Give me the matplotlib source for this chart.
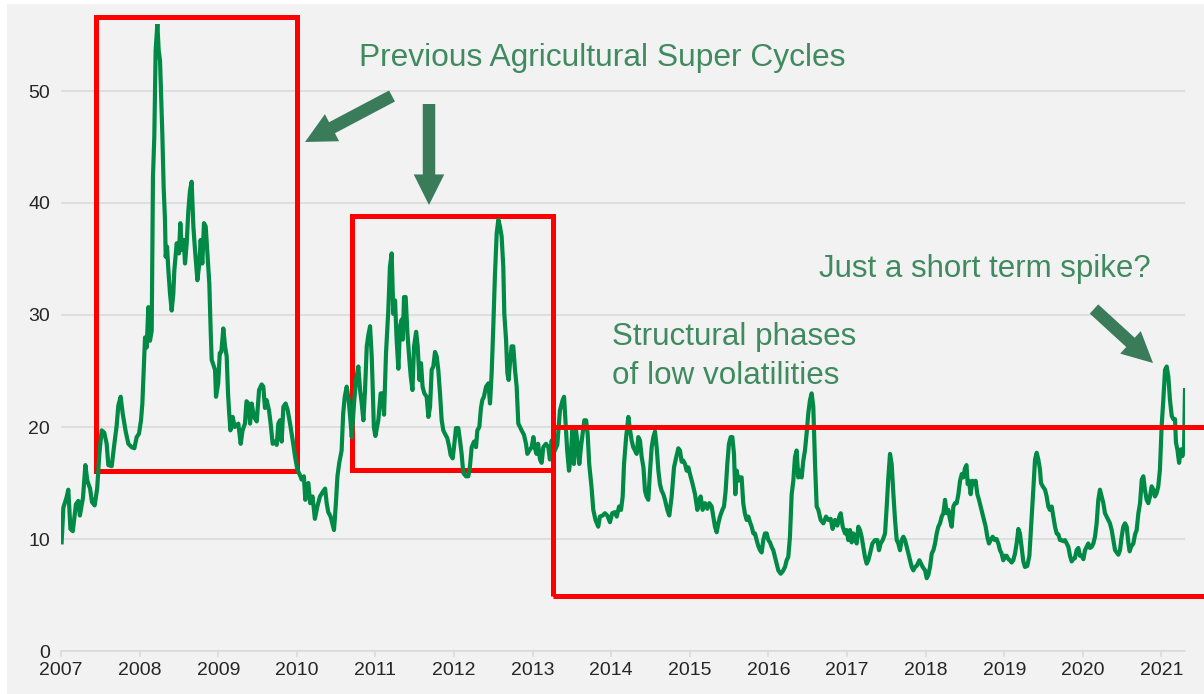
import numpy as np
import matplotlib
matplotlib.use("Agg")
import matplotlib.pyplot as plt
from matplotlib.patches import Rectangle, FancyArrowPatch, ArrowStyle

plt.rcParams['font.family'] = ['Liberation Sans', 'DejaVu Sans']

# ---------------- data (decimal year, volatility) ----------------
t_2007 = [2007.008, 2007.03, 2007.07, 2007.093, 2007.12, 2007.15, 2007.19, 2007.22, 2007.24, 2007.28,
          2007.31, 2007.335, 2007.37, 2007.394, 2007.428, 2007.46, 2007.488, 2007.517, 2007.55, 2007.581,
          2007.602, 2007.645, 2007.679, 2007.708, 2007.729, 2007.759, 2007.785, 2007.823, 2007.857, 2007.899,
          2007.933, 2007.963, 2007.992]
v_2007 = [9.7, 12.8, 13.7, 14.4, 10.9, 10.7, 13.1, 13.4, 12.1, 13.7,
          16.6, 15.2, 14.5, 13.3, 13.0, 14.5, 17.6, 19.7, 19.5, 18.5,
          16.6, 16.5, 18.5, 20.1, 21.9, 22.7, 21.2, 19.6, 18.5, 18.2,
          18.1, 19.1, 19.4]

t_2008 = [2008.018, 2008.035, 2008.052, 2008.069, 2008.09, 2008.111, 2008.132, 2008.154, 2008.17, 2008.187,
          2008.204, 2008.226, 2008.243, 2008.26, 2008.272, 2008.289, 2008.306, 2008.323, 2008.332, 2008.349,
          2008.366, 2008.387, 2008.408, 2008.429, 2008.442, 2008.472, 2008.501, 2008.518, 2008.539, 2008.561,
          2008.578, 2008.599, 2008.62, 2008.641, 2008.662, 2008.684, 2008.705, 2008.735, 2008.76, 2008.777,
          2008.798, 2008.819, 2008.841, 2008.866, 2008.887, 2008.905, 2008.917, 2008.96, 2008.972]
v_2008 = [20.6, 22.1, 25.1, 28.0, 27.1, 30.7, 27.7, 28.6, 42.3, 45.9,
          53.6, 56.0, 53.6, 52.7, 50.1, 46.2, 41.4, 38.5, 35.2, 36.1,
          34.0, 31.9, 30.4, 31.9, 34.0, 36.4, 35.5, 38.2, 35.8, 36.7,
          34.6, 36.4, 39.3, 41.1, 41.9, 37.9, 35.8, 33.1, 34.6, 36.7,
          34.6, 38.2, 37.9, 35.2, 32.8, 28.4, 26.0, 25.1, 22.7]

t_2009 = [2009.0, 2009.02, 2009.04, 2009.065, 2009.087, 2009.108, 2009.125, 2009.14, 2009.155, 2009.184,
          2009.21, 2009.256, 2009.286, 2009.31, 2009.34, 2009.36, 2009.383, 2009.405, 2009.426, 2009.455,
          2009.49, 2009.52, 2009.553, 2009.574, 2009.595, 2009.616, 2009.646, 2009.667, 2009.693, 2009.72,
          2009.744, 2009.765, 2009.786, 2009.807, 2009.829, 2009.858, 2009.884, 2009.914, 2009.948, 2009.977]
v_2009 = [23.9, 26.6, 26.7, 28.8, 27.2, 26.3, 23.0, 21.2, 19.7, 20.9,
          20.0, 20.3, 18.5, 19.7, 20.3, 22.3, 22.1, 20.3, 22.1, 20.9,
          20.5, 23.3, 23.8, 23.6, 21.7, 22.4, 21.5, 20.3, 18.5, 18.7,
          18.4, 20.3, 20.6, 18.7, 21.8, 22.1, 21.5, 20.3, 18.8, 17.4]

t_2010 = [2010.007, 2010.04, 2010.062, 2010.09, 2010.108, 2010.125, 2010.147, 2010.17, 2010.2, 2010.23,
          2010.261, 2010.295, 2010.33, 2010.36, 2010.38, 2010.40, 2010.43, 2010.455, 2010.473, 2010.486,
          2010.5, 2010.517, 2010.54, 2010.57, 2010.59, 2010.61, 2010.635, 2010.66, 2010.686, 2010.699,
          2010.728, 2010.754, 2010.783, 2010.805, 2010.826, 2010.847, 2010.868, 2010.89, 2010.91, 2010.932,
          2010.953, 2010.968, 2010.98]
v_2010 = [16.2, 15.7, 15.3, 15.6, 13.5, 14.7, 15.0, 13.2, 13.8, 11.8,
          12.9, 13.8, 14.2, 14.5, 13.2, 12.4, 12.0, 11.3, 10.8, 12.0,
          13.5, 15.6, 16.8, 17.9, 21.2, 22.7, 23.6, 22.4, 20.3, 19.1,
          22.1, 24.2, 25.4, 23.3, 22.1, 20.6, 23.3, 27.2, 28.2, 29.0,
          26.3, 23.0, 20.0]

t_2011 = [2011.0, 2011.037, 2011.067, 2011.092, 2011.11, 2011.135, 2011.164, 2011.185, 2011.207, 2011.228,
          2011.25, 2011.27, 2011.292, 2011.314, 2011.335, 2011.348, 2011.364, 2011.385, 2011.407, 2011.432,
          2011.45, 2011.471, 2011.492, 2011.518, 2011.538, 2011.56, 2011.58, 2011.60, 2011.623, 2011.652,
          2011.674, 2011.695, 2011.716, 2011.737, 2011.758, 2011.78, 2011.80, 2011.822, 2011.843, 2011.864,
          2011.885, 2011.915, 2011.94, 2011.957, 2011.983]
v_2011 = [19.2, 20.6, 23.0, 23.0, 21.1, 26.6, 30.4, 34.3, 35.5, 30.1,
          31.3, 27.8, 25.2, 29.0, 29.6, 27.8, 31.6, 31.6, 28.4, 26.0,
          24.5, 23.3, 27.2, 28.5, 27.2, 24.2, 25.7, 23.6, 23.0, 22.7,
          20.9, 21.8, 25.1, 25.4, 26.7, 26.3, 25.1, 23.0, 20.6, 19.7,
          19.4, 19.0, 18.2, 17.5, 17.2]

t_2012 = [2012.0, 2012.025, 2012.055, 2012.076, 2012.097, 2012.118, 2012.152, 2012.182, 2012.203, 2012.225,
          2012.255, 2012.28, 2012.297, 2012.322, 2012.343, 2012.36, 2012.38, 2012.408, 2012.438, 2012.458,
          2012.479, 2012.5, 2012.52, 2012.543, 2012.564, 2012.585, 2012.606, 2012.627, 2012.64, 2012.662,
          2012.679, 2012.695, 2012.712, 2012.733, 2012.754, 2012.776, 2012.797, 2012.818, 2012.84, 2012.86,
          2012.89, 2012.916, 2012.933, 2012.958, 2012.988]
v_2012 = [18.2, 19.9, 19.9, 18.8, 17.6, 15.9, 15.6, 15.6, 16.5, 18.2,
          18.7, 18.2, 19.7, 20.0, 21.7, 22.4, 22.7, 23.6, 23.9, 22.1,
          24.8, 29.0, 33.4, 37.3, 38.5, 37.9, 37.0, 34.3, 30.1, 27.8,
          24.8, 24.2, 25.7, 27.2, 27.2, 25.1, 23.6, 20.3, 20.0, 19.7,
          19.3, 18.5, 17.6, 17.9, 18.2]

t_2013 = [2013.01, 2013.03, 2013.05, 2013.07, 2013.094, 2013.115, 2013.136, 2013.17, 2013.2, 2013.22,
          2013.243, 2013.263, 2013.314, 2013.348, 2013.382, 2013.40, 2013.42, 2013.44, 2013.463, 2013.484,
          2013.505, 2013.526, 2013.552, 2013.573, 2013.594, 2013.615, 2013.637, 2013.658, 2013.68, 2013.70,
          2013.72, 2013.75, 2013.772, 2013.80, 2013.835, 2013.856, 2013.891, 2013.92, 2013.95, 2013.984]
v_2013 = [19.1, 18.1, 17.6, 18.5, 17.1, 16.8, 18.2, 18.5, 18.2, 17.1,
          18.8, 17.6, 18.4, 21.5, 22.4, 22.7, 20.3, 17.9, 16.1, 17.3,
          19.7, 16.7, 19.7, 18.5, 16.7, 18.2, 19.4, 20.6, 20.6, 19.4,
          16.7, 14.6, 12.6, 11.7, 11.1, 12.0, 12.1, 12.3, 12.1, 11.5]

t_2014 = [2014.013, 2014.047, 2014.07, 2014.10, 2014.125, 2014.146, 2014.163, 2014.19, 2014.218, 2014.24,
          2014.26, 2014.28, 2014.303, 2014.324, 2014.345, 2014.366, 2014.388, 2014.41, 2014.43, 2014.45,
          2014.472, 2014.494, 2014.515, 2014.536, 2014.557, 2014.578, 2014.6, 2014.62, 2014.642, 2014.663,
          2014.684, 2014.714, 2014.739, 2014.769, 2014.799, 2014.824, 2014.854, 2014.875, 2014.896, 2014.917,
          2014.939, 2014.96, 2014.981]
v_2014 = [12.3, 12.4, 12.0, 12.9, 12.6, 13.8, 16.7, 19.1, 20.9, 19.7,
          18.8, 18.2, 17.9, 17.6, 19.1, 18.8, 17.3, 16.4, 14.3, 13.8,
          13.5, 16.1, 18.2, 19.1, 19.6, 18.2, 16.1, 14.9, 14.3, 14.0,
          13.5, 12.6, 12.1, 13.8, 16.4, 17.2, 18.1, 17.9, 16.9, 17.0,
          16.7, 16.1, 16.4]

t_2015 = [2015.002, 2015.036, 2015.066, 2015.096, 2015.121, 2015.138, 2015.163, 2015.193, 2015.223, 2015.248,
          2015.278, 2015.299, 2015.32, 2015.342, 2015.363, 2015.384, 2015.414, 2015.435, 2015.456, 2015.477,
          2015.498, 2015.52, 2015.541, 2015.562, 2015.579, 2015.596, 2015.617, 2015.638, 2015.659, 2015.68,
          2015.70, 2015.723, 2015.744, 2015.766, 2015.787, 2015.808, 2015.829, 2015.85, 2015.87, 2015.893,
          2015.914, 2015.935, 2015.956, 2015.978, 2015.999]
v_2015 = [15.8, 14.9, 14.0, 12.6, 13.5, 13.8, 12.6, 13.2, 12.7, 13.2,
          12.9, 12.0, 11.1, 10.6, 11.4, 12.0, 12.6, 12.9, 14.3, 16.7,
          18.5, 19.1, 19.1, 17.6, 14.0, 16.1, 15.2, 15.5, 15.5, 13.2,
          12.3, 11.7, 12.0, 11.5, 11.1, 10.5, 10.5, 9.9, 9.4, 9.0,
          8.8, 9.9, 10.5, 10.5, 9.9]

t_2016 = [2016.02, 2016.041, 2016.062, 2016.083, 2016.105, 2016.126, 2016.156, 2016.181, 2016.211, 2016.232,
          2016.253, 2016.274, 2016.296, 2016.317, 2016.338, 2016.359, 2016.38, 2016.40, 2016.423, 2016.444,
          2016.465, 2016.478, 2016.49, 2016.507, 2016.529, 2016.55, 2016.571, 2016.593, 2016.614, 2016.635,
          2016.665, 2016.699, 2016.733, 2016.762, 2016.792, 2016.817, 2016.847, 2016.877, 2016.902, 2016.92,
          2016.945, 2016.975, 2016.995]
v_2016 = [9.7, 9.3, 9.0, 8.4, 7.8, 7.2, 6.9, 7.1, 7.5, 8.1,
          8.4, 10.2, 14.0, 15.2, 17.3, 17.9, 15.5, 16.1, 15.5, 17.0,
          17.9, 18.8, 19.7, 21.2, 22.4, 23.0, 21.8, 16.7, 12.9, 12.6,
          11.7, 11.4, 12.0, 11.7, 11.8, 10.9, 11.7, 11.2, 12.0, 12.3,
          11.1, 10.5, 10.8]

t_2017 = [2017.016, 2017.038, 2017.059, 2017.08, 2017.101, 2017.123, 2017.144, 2017.165, 2017.186, 2017.207,
          2017.228, 2017.25, 2017.271, 2017.293, 2017.323, 2017.356, 2017.386, 2017.407, 2017.428, 2017.454,
          2017.484, 2017.505, 2017.526, 2017.547, 2017.568, 2017.59, 2017.611, 2017.632, 2017.653, 2017.674,
          2017.695, 2017.717, 2017.738, 2017.76, 2017.781, 2017.802, 2017.823, 2017.844, 2017.865, 2017.887,
          2017.921, 2017.942, 2017.963, 2017.993]
v_2017 = [9.9, 10.8, 9.7, 10.5, 10.2, 9.6, 11.1, 10.8, 10.2, 9.3,
          8.4, 7.8, 8.1, 8.7, 9.6, 9.9, 9.9, 9.0, 9.6, 9.9,
          10.5, 12.9, 15.5, 17.6, 16.7, 14.0, 11.7, 9.9, 9.6, 9.0,
          9.9, 10.2, 9.9, 9.3, 8.7, 8.1, 7.5, 7.2, 7.5, 7.6,
          8.1, 7.8, 7.5, 7.2]

t_2018 = [2018.014, 2018.035, 2018.056, 2018.078, 2018.099, 2018.12, 2018.141, 2018.162, 2018.183, 2018.205,
          2018.226, 2018.247, 2018.268, 2018.29, 2018.311, 2018.332, 2018.353, 2018.374, 2018.395, 2018.417,
          2018.438, 2018.46, 2018.48, 2018.5, 2018.52, 2018.535, 2018.552, 2018.573, 2018.594, 2018.615,
          2018.636, 2018.658, 2018.679, 2018.7, 2018.721, 2018.743, 2018.764, 2018.785, 2018.806, 2018.828,
          2018.853, 2018.882, 2018.903, 2018.925, 2018.946, 2018.967, 2018.988]
v_2018 = [6.5, 6.8, 7.5, 8.7, 9.0, 9.6, 10.5, 11.1, 11.4, 12.0,
          12.3, 13.5, 12.3, 12.6, 11.7, 11.1, 12.9, 13.2, 13.2, 14.0,
          15.2, 15.8, 15.5, 16.3, 16.6, 14.9, 15.2, 14.0, 15.2, 14.9,
          15.2, 14.0, 13.5, 12.9, 12.3, 11.7, 11.1, 10.2, 9.6, 9.9,
          10.2, 9.9, 10.0, 9.6, 9.0, 8.7, 8.1]

t_2019 = [2019.01, 2019.031, 2019.052, 2019.073, 2019.094, 2019.115, 2019.137, 2019.158, 2019.18, 2019.20,
          2019.22, 2019.243, 2019.264, 2019.294, 2019.32, 2019.35, 2019.37, 2019.392, 2019.413, 2019.434,
          2019.455, 2019.468, 2019.49, 2019.519, 2019.54, 2019.561, 2019.582, 2019.604, 2019.625, 2019.646,
          2019.667, 2019.689, 2019.71, 2019.731, 2019.752, 2019.773, 2019.794, 2019.816, 2019.837, 2019.858,
          2019.879, 2019.9, 2019.921, 2019.943, 2019.964, 2019.986]
v_2019 = [8.5, 8.5, 8.2, 8.1, 7.9, 8.1, 8.7, 9.6, 10.9, 10.5,
          9.3, 8.0, 7.5, 7.6, 8.5, 12.0, 14.4, 17.1, 17.7, 17.1,
          16.2, 15.0, 14.7, 14.4, 13.8, 12.9, 12.6, 12.9, 12.0, 11.1,
          10.5, 10.4, 9.9, 9.9, 9.8, 9.9, 9.6, 9.3, 8.5, 8.0,
          8.2, 8.3, 9.0, 9.2, 8.5, 8.5]

t_2020 = [2020.007, 2020.028, 2020.049, 2020.07, 2020.091, 2020.113, 2020.134, 2020.155, 2020.176, 2020.197,
          2020.218, 2020.24, 2020.261, 2020.282, 2020.303, 2020.324, 2020.345, 2020.367, 2020.388, 2020.41,
          2020.431, 2020.452, 2020.473, 2020.494, 2020.515, 2020.537, 2020.558, 2020.58, 2020.596, 2020.613,
          2020.643, 2020.664, 2020.685, 2020.707, 2020.728, 2020.75, 2020.77, 2020.79, 2020.812, 2020.833,
          2020.855, 2020.876, 2020.897, 2020.918, 2020.939, 2020.96, 2020.981]
v_2020 = [8.2, 9.0, 9.3, 9.6, 9.2, 9.3, 9.6, 10.2, 11.4, 13.5,
          14.4, 13.8, 13.2, 12.3, 12.0, 11.7, 11.4, 10.8, 9.9, 9.0,
          8.8, 8.6, 9.0, 10.2, 11.1, 11.4, 11.1, 9.6, 8.9, 9.3,
          9.6, 10.4, 10.8, 12.3, 13.2, 15.3, 15.6, 14.4, 13.5, 13.2,
          13.8, 14.7, 14.4, 13.8, 14.1, 14.7, 16.2]

t_2021 = [2021.003, 2021.024, 2021.046, 2021.067, 2021.088, 2021.109, 2021.131, 2021.152, 2021.173, 2021.185,
          2021.203, 2021.225, 2021.246, 2021.267, 2021.288, 2021.3]
v_2021 = [20.1, 22.4, 25.1, 25.4, 24.5, 22.4, 21.0, 20.7, 20.7, 18.6,
          18.0, 16.8, 18.0, 17.4, 18.3, 23.3]

year_ticks = list(range(2007, 2022))
y_ticks = [0, 10, 20, 30, 40, 50]

# highlighted regimes: (x0, x1, y0, y1)
box_cycle1 = (2007.45, 2010.0, 16.1, 56.6)
box_cycle2 = (2010.70, 2013.26, 16.2, 38.8)
box_low = (2013.26, 2022.5, 4.9, 20.0)

title_txt = "Previous Agricultural Super Cycles"
spike_txt = "Just a short term spike?"
low_txt_1 = "Structural phases"
low_txt_2 = "of low volatilities"

# ---------------- figure ----------------
W, H = 1204, 694
fig = plt.figure(figsize=(W / 100, H / 100), dpi=100)
fig.patch.set_facecolor('white')
fig.patches.append(Rectangle((7 / W, 0), 1, 690 / H, transform=fig.transFigure,
                             facecolor='#f2f2f2', edgecolor='none', zorder=-10))

ax = fig.add_axes([61 / W, 43 / H, 1124 / W, 627.2 / H])
ax.patch.set_visible(False)

t = np.concatenate([t_2007, t_2008, t_2009, t_2010, t_2011, t_2012, t_2013, t_2014,
                    t_2015, t_2016, t_2017, t_2018, t_2019, t_2020, t_2021])
v = np.concatenate([v_2007, v_2008, v_2009, v_2010, v_2011, v_2012, v_2013, v_2014,
                    v_2015, v_2016, v_2017, v_2018, v_2019, v_2020, v_2021])
ax.plot(t, v, color='#008a45', lw=3.0, solid_joinstyle='round', zorder=3)

ax.set_xlim(2007, 2021.3)
ax.set_ylim(0, 56)
ax.set_yticks(y_ticks)
ax.set_xticks(year_ticks)
ax.set_xticklabels([str(y) for y in year_ticks])
ax.grid(axis='y', color='#d9d9d9', lw=1.1, zorder=0)
ax.set_axisbelow(True)
for s in ['top', 'right', 'left']:
    ax.spines[s].set_visible(False)
ax.spines['bottom'].set_color('#d9d9d9')
ax.spines['bottom'].set_linewidth(1.1)
ax.tick_params(axis='y', length=0, pad=8, labelsize=14, labelcolor='#262626')
ax.tick_params(axis='x', length=4, width=1.1, color='#d9d9d9', pad=4, labelsize=14,
               labelcolor='#262626')

def box(b, z):
    x0, x1, y0, y1 = b
    ax.add_patch(Rectangle((x0, y0), x1 - x0, y1 - y0, fill=False, edgecolor='#ff0000',
                           lw=3.6, joinstyle='miter', clip_on=False, zorder=z))

box(box_cycle1, 2)
box(box_cycle2, 2)
box(box_low, 4)

def fx(px):
    return px / W

def fy(py):
    return 1 - py / H

txt_color = '#3f8a5f'
arr_color = '#3a7c59'
fig.text(fx(602), fy(66), title_txt, ha='center', va='baseline', fontsize=22.9, color=txt_color)
fig.text(fx(819), fy(277), spike_txt, ha='left', va='baseline', fontsize=22.5, color=txt_color)
fig.text(fx(612), fy(345), low_txt_1, ha='left', va='baseline', fontsize=22.6, color=txt_color)
fig.text(fx(612), fy(384), low_txt_2, ha='left', va='baseline', fontsize=22.6, color=txt_color)

style = ArrowStyle.Simple(head_length=22, head_width=22, tail_width=9)
for (x0, y0), (x1, y1) in [((392, 96), (305, 142)), ((429, 104), (429, 205)), ((1094, 309), (1153, 363))]:
    fig.add_artist(FancyArrowPatch((fx(x0), fy(y0)), (fx(x1), fy(y1)), transform=fig.transFigure,
                                   arrowstyle=style, mutation_scale=1, shrinkA=0, shrinkB=0,
                                   color=arr_color, lw=0))

fig.savefig('out.png', dpi=100, facecolor=fig.get_facecolor())
